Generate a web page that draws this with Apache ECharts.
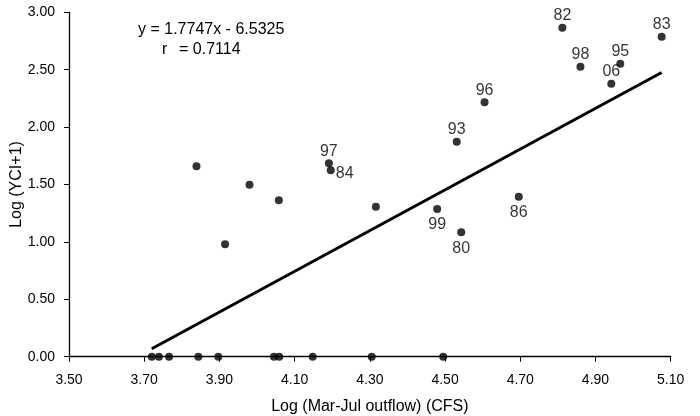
<!DOCTYPE html>
<html>
<head>
<meta charset="utf-8">
<script src="https://cdn.jsdelivr.net/npm/echarts@6/dist/echarts.min.js"></script>
<style>
html,body{margin:0;padding:0;background:#fff;}
#chart{width:700px;height:416px;}
</style>
</head>
<body>
<div id="chart"></div>
<script>
// Labeled points (year labels)
const years    = ['97', '84', '82', '83', '98', '95', '06', '96', '93', '86', '99', '80'];
const labeledX = [4.191, 4.196, 4.812, 5.076, 4.860, 4.966, 4.942, 4.605, 4.531, 4.696, 4.479, 4.543];
const labeledY = [1.685, 1.624, 2.866, 2.787, 2.526, 2.552, 2.378, 2.216, 1.873, 1.394, 1.287, 1.084];
// Unlabeled points above zero
const otherX = [3.839, 3.980, 4.058, 4.316, 3.915];
const otherY = [1.658, 1.498, 1.362, 1.307, 0.979];
// Points with Log(YCI+1) = 0
const zeroX = [3.720, 3.739, 3.766, 3.844, 3.897, 4.045, 4.059, 4.148, 4.305, 4.495];
const zeroY = zeroX.map(() => 0);
// Regression shown on the chart
const slope = 1.7747;
const intercept = -6.5325;
const rValue = 0.7114;
// Axis tick settings
const xMin = 3.5, xMax = 5.1, xStep = 0.2;
const yMin = 0, yMax = 3, yStep = 0.5;

const labelBelow = ['86', '99', '80'];
const labelRight = ['84'];

const FONT = "'Liberation Sans', Arial, sans-serif";
const LBL = { show: true, fontSize: 16, color: '#000', fontFamily: FONT };

const pointData = [];
years.forEach((yr, i) => {
  let label = Object.assign({}, LBL, { formatter: yr, position: 'top', distance: 0 });
  if (labelBelow.includes(yr)) label = Object.assign({}, LBL, { formatter: yr, position: 'bottom', distance: 4 });
  if (labelRight.includes(yr)) label = Object.assign({}, LBL, { formatter: yr, position: 'right', distance: 1, offset: [0, 3] });
  pointData.push({ value: [labeledX[i], labeledY[i]], label: label });
});
otherX.forEach((x, i) => pointData.push({ value: [x, otherY[i]] }));
zeroX.forEach((x, i) => pointData.push({ value: [x, zeroY[i]] }));

const allX = labeledX.concat(otherX, zeroX);
const lx0 = Math.min.apply(null, allX);
const lx1 = Math.max.apply(null, allX);
const lineData = [[lx0, slope * lx0 + intercept], [lx1, slope * lx1 + intercept]];

const chart = echarts.init(document.getElementById('chart'), null, { renderer: 'canvas' });
chart.setOption({
  animation: false,
  backgroundColor: '#ffffff',
  textStyle: { fontFamily: FONT, color: '#000' },
  grid: { left: 69, right: 29.3, top: 12.3, bottom: 59.3, containLabel: false, outerBoundsMode: 'none' },
  xAxis: {
    type: 'value',
    min: xMin, max: xMax, interval: xStep,
    name: 'Log (Mar-Jul outflow) (CFS)',
    nameLocation: 'middle',
    nameGap: 42,
    nameMoveOverlap: false,
    nameTextStyle: { fontSize: 16, color: '#000', fontFamily: FONT },
    axisLine: { show: true, lineStyle: { color: '#000', width: 1.3 } },
    axisTick: { show: true, inside: false, length: 5, lineStyle: { color: '#000', width: 1 } },
    axisLabel: { formatter: v => v.toFixed(2), fontSize: 14, color: '#000', margin: 16, fontFamily: FONT, showMinLabel: true, showMaxLabel: true },
    splitLine: { show: false }
  },
  yAxis: {
    type: 'value',
    min: yMin, max: yMax, interval: yStep,
    name: 'Log (YCI+1)',
    nameLocation: 'middle',
    nameGap: 44,
    nameMoveOverlap: false,
    nameTextStyle: { fontSize: 16, color: '#000', fontFamily: FONT },
    axisLine: { show: true, lineStyle: { color: '#000', width: 1.3 } },
    axisTick: { show: true, inside: false, length: 5, lineStyle: { color: '#000', width: 1 } },
    axisLabel: { formatter: v => v.toFixed(2), fontSize: 14, color: '#000', margin: 14, fontFamily: FONT, showMinLabel: true, showMaxLabel: true },
    splitLine: { show: false }
  },
  graphic: [
    { type: 'text', left: 138, top: 22, style: { text: 'y = ' + slope + 'x - ' + Math.abs(intercept), fontSize: 16, fill: '#000', fontFamily: FONT } },
    { type: 'text', left: 162, top: 41.5, style: { text: 'r', fontSize: 16, fill: '#000', fontFamily: FONT } },
    { type: 'text', left: 179, top: 41.5, style: { text: '= ' + rValue, fontSize: 16, fill: '#000', fontFamily: FONT } }
  ],
  series: [
    {
      type: 'line',
      data: lineData,
      symbol: 'none',
      lineStyle: { color: '#000', width: 3 },
      z: 2,
      silent: true
    },
    {
      type: 'scatter',
      data: pointData,
      symbol: 'circle',
      symbolSize: 8,
      itemStyle: { color: '#000' },
      label: { show: false, fontSize: 16, color: '#000', fontFamily: FONT },
      z: 3
    }
  ]
});
</script>
</body>
</html>
